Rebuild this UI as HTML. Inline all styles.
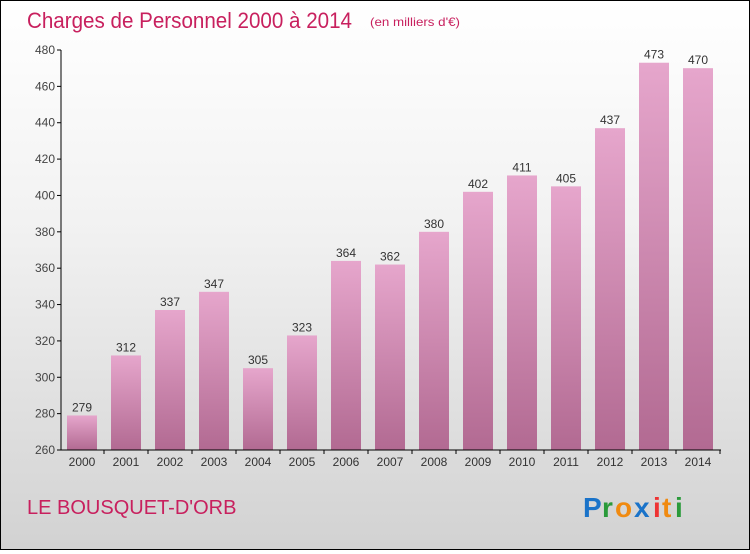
<!DOCTYPE html>
<html><head><meta charset="utf-8"><style>
html,body{margin:0;padding:0}
body{width:750px;height:550px;overflow:hidden;font-family:"Liberation Sans",sans-serif}
#wrap{position:relative;width:748px;height:548px;border:1px solid #000;background:linear-gradient(#fff 0%,#f2f2f2 40%,#d2d2d2 100%)}
</style></head><body>
<div id="wrap">
<svg width="748" height="548" xmlns="http://www.w3.org/2000/svg" id="svg">
<defs><linearGradient id="bg" x1="0" y1="0" x2="0" y2="1"><stop offset="0" stop-color="#e6a6cc"/><stop offset="1" stop-color="#b26a92"/></linearGradient></defs>
<text x="26" y="27" font-size="22" fill="#c8205e" textLength="325" lengthAdjust="spacingAndGlyphs">Charges de Personnel 2000 à 2014</text>
<text x="369" y="25" font-size="12" fill="#c8205e" textLength="90" lengthAdjust="spacingAndGlyphs">(en milliers d'€)</text>
<text x="26" y="513" font-size="20" fill="#c8205e">LE BOUSQUET-D'ORB</text>
<g font-size="28" font-weight="bold" font-family="Liberation Sans,sans-serif">
<text x="582" y="516" fill="#1a73c9">P</text><text x="601" y="516" fill="#2a9a3a">r</text><text x="614" y="516" fill="#f08a10">o</text><text x="633" y="516" fill="#1a73c9">x</text><text x="652" y="516" fill="#e33">i</text><text x="661" y="516" fill="#f08a10">t</text><text x="674" y="516" fill="#2a9a3a">i</text>
</g>
<g id="chart"></g>
</svg>
</div>
<script>
const categories=["2000","2001","2002","2003","2004","2005","2006","2007","2008","2009","2010","2011","2012","2013","2014"];
const values=[279,312,337,347,305,323,364,362,380,402,411,405,437,473,470];
const yTicks=[260,280,300,320,340,360,380,400,420,440,460,480];
const NS="http://www.w3.org/2000/svg";
const g=document.getElementById('chart');
const y=v=>449-(v-260)*400/220;
const x=i=>81+i*44;
function mk(t,a,txt){const e=document.createElementNS(NS,t);for(const k in a)e.setAttribute(k,a[k]);if(txt!==undefined)e.textContent=txt;g.appendChild(e);return e;}
yTicks.forEach(t=>{
 const tk=mk('line',{x1:56,x2:60,y1:y(t),y2:y(t),stroke:'#000'});
 
 
 const lb=mk('text',{x:54,y:y(t)+4,'font-size':12,fill:'#444','text-anchor':'end'},t);
 
 
});
values.forEach((v,i)=>{
 const r=mk('rect',{x:x(i)-15,y:y(v),width:30,height:y(260)-y(v),fill:'url(#bg)'});
 
 
 const vl=mk('text',{x:x(i),y:y(v)-4,'font-size':12,fill:'#333','text-anchor':'middle'},v);
 
 
 const xl=mk('text',{x:x(i),y:465,'font-size':12,fill:'#333','text-anchor':'middle'},categories[i]);
 
 
 const xt=mk('line',{x1:x(i)+22,x2:x(i)+22,y1:449,y2:453,stroke:'#000'});
 
 
});
const ya=mk('line',{x1:60,x2:60,y1:y(480),y2:449,stroke:'#000'});


const xa=mk('line',{x1:60,x2:720,y1:449,y2:449,stroke:'#000'});


</script>
</body></html>
